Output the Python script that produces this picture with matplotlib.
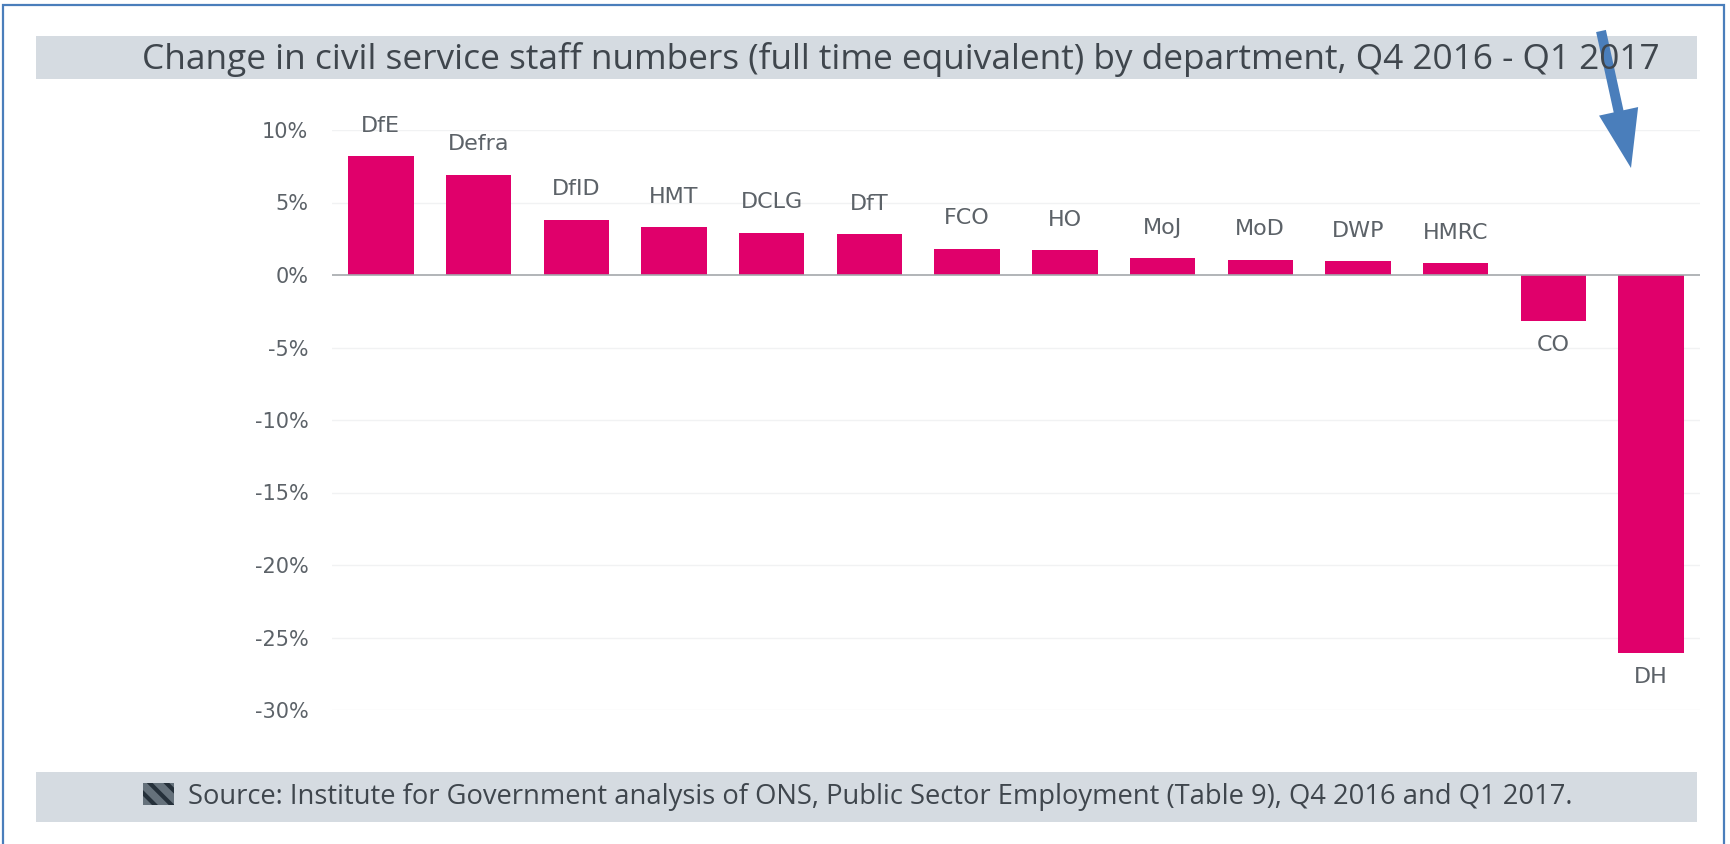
import matplotlib
matplotlib.use("Agg")
import matplotlib.pyplot as plt
import matplotlib.patches as mpatches
import matplotlib.transforms as mtransforms

# staff change by department, per cent
departments = ["DfE", "Defra", "DfID", "HMT", "DCLG", "DfT", "FCO",
               "HO", "MoJ", "MoD", "DWP", "HMRC", "CO", "DH"]
change_pct = [8.2, 6.9, 3.8, 3.3, 2.9, 2.8, 1.8,
              1.7, 1.15, 1.05, 0.95, 0.8, -3.2, -26.1]
tick_values = [10, 5, 0, -5, -10, -15, -20, -25, -30]

title = ("Change in civil service staff numbers (full time equivalent) "
         "by department, Q4 2016 - Q1 2017")
source = ("Source: Institute for Government analysis of ONS, Public Sector "
          "Employment (Table 9), Q4 2016 and Q1 2017.")

W, H = 1730, 844
bar_col = "#e0006b"
band_col = "#d5dbe1"
text_col = "#3f464d"
label_col = "#5c6268"
frame_col = "#4a7ebb"

plt.rcParams["hatch.linewidth"] = 3.0

fig = plt.figure(figsize=(W / 100, H / 100), dpi=100)
fig.patch.set_facecolor("white")

def px(x, y):
    # pixel position (from top-left) to figure fraction
    return x / W, 1 - y / H

# outer frame
x0, y0 = px(3, 5)
fig.add_artist(mpatches.Rectangle((x0, -0.05), px(1724, 0)[0] - x0, y0 + 0.05,
                                  transform=fig.transFigure, fill=False,
                                  edgecolor=frame_col, linewidth=1.6))

# title band
bx0, by1 = px(36, 36)
bx1, by0 = px(1697, 79)
fig.add_artist(mpatches.Rectangle((bx0, by0), bx1 - bx0, by1 - by0,
                                  transform=fig.transFigure,
                                  facecolor=band_col, edgecolor="none"))
fig.text(px(901, 0)[0], (by0 + by1) / 2 - 0.002, title, ha="center", va="center",
         fontsize=25.4, color=text_col, family="Open Sans")

# source band
sx0, sy1 = px(36, 772)
sx1, sy0 = px(1697, 822)
fig.add_artist(mpatches.Rectangle((sx0, sy0), sx1 - sx0, sy1 - sy0,
                                  transform=fig.transFigure,
                                  facecolor=band_col, edgecolor="none"))
ix0, iy1 = px(143, 783)
ix1, iy0 = px(174, 805)
fig.add_artist(mpatches.Rectangle((ix0, iy0), ix1 - ix0, iy1 - iy0,
                                  transform=fig.transFigure,
                                  facecolor="#65717b", edgecolor="#25303a",
                                  hatch="\\\\", linewidth=0))
fig.text(px(188, 0)[0], (sy0 + sy1) / 2, source, ha="left", va="center",
         fontsize=19.7, color=text_col, family="Open Sans")

# bar chart
ax = fig.add_axes([332 / W, 1 - 710 / H, (1700 - 332) / W, (710 - 130) / H])
xs = range(len(departments))
ax.bar(xs, change_pct, width=0.67, color=bar_col, zorder=3)
ax.set_xlim(-0.5, len(departments) - 0.5)
ax.set_ylim(-30, 10)
ax.set_yticks(tick_values)
ax.set_yticklabels([f"{v}%" for v in tick_values])
ax.tick_params(axis="y", length=0, pad=17, labelsize=15, labelcolor=label_col)
ax.set_xticks([])
for v in tick_values:
    if v != 0:
        ax.axhline(v, color="#f1f2f3", linewidth=1, zorder=1)
ax.axhline(0, color="#a4a8ac", linewidth=1.2, zorder=4)
for s in ax.spines.values():
    s.set_visible(False)
ax.set_facecolor("none")

for x, v, name in zip(xs, change_pct, departments):
    off = 22 if v >= 0 else -17
    ax.annotate(name, (x, v), xytext=(0, off), textcoords="offset points",
                ha="center", va="center", fontsize=16, color=label_col,
                family="DejaVu Sans")

# pointer arrow above DH
fig.add_artist(mpatches.FancyArrow(1601, H - 31, 30, -137, width=10,
                                   head_width=40, head_length=58,
                                   length_includes_head=True,
                                   transform=mtransforms.IdentityTransform(),
                                   color=frame_col, linewidth=0))

fig.savefig("out.png", dpi=100)
